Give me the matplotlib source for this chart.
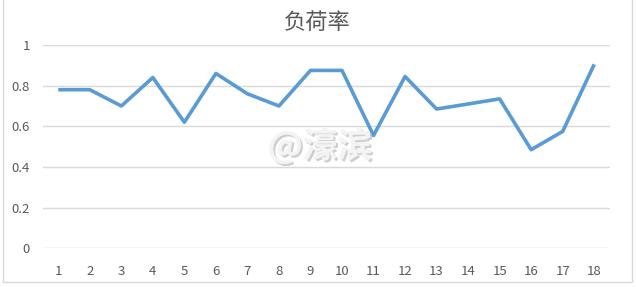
import matplotlib.pyplot as plt
from matplotlib.patches import Rectangle
import matplotlib.patheffects as pe

plt.rcParams['font.family'] = ['Noto Sans CJK SC', 'DejaVu Sans']

# data
hours = list(range(1, 19))
load_rate = [0.78, 0.78, 0.70, 0.84, 0.62, 0.86, 0.76, 0.70, 0.875,
             0.875, 0.555, 0.845, 0.685, 0.71, 0.735, 0.485, 0.575, 0.905]
y_ticks = [0, 0.2, 0.4, 0.6, 0.8, 1]
y_labels = ['0', '0.2', '0.4', '0.6', '0.8', '1']

W, H = 636, 287
fig = plt.figure(figsize=(W / 100, H / 100), dpi=100)
fig.patch.set_facecolor('white')

# chart area border (top runs off the image)
fig.patches.append(Rectangle((2.5 / W, 1 - 282 / H), 629.5 / W, 290 / H,
                             transform=fig.transFigure, fill=False,
                             edgecolor='#d9d9d9', linewidth=1))

ax = fig.add_axes([42.5 / W, 1 - 248.3 / H, 567.5 / W, 203.3 / H])
ax.plot(hours, load_rate, color='#5B9BD5', linewidth=2.6,
        solid_joinstyle='round', solid_capstyle='butt', zorder=3)

ax.set_xlim(0.5, 18.5)
ax.set_ylim(0, 1)
ax.set_xticks(hours)
ax.set_xticklabels([str(h) for h in hours])
ax.set_yticks(y_ticks)
ax.set_yticklabels(y_labels)
ax.tick_params(length=0, labelsize=9.5, colors='#595959')
ax.tick_params(axis='x', pad=12)
ax.tick_params(axis='y', pad=9)
ax.grid(axis='y', color='#d9d9d9', linewidth=1)
ax.set_axisbelow(True)
for s in ax.spines.values():
    s.set_visible(False)
ax.set_facecolor('none')

fig.text(317 / W, 1 - 22 / H, '负荷率', ha='center', va='center',
         fontsize=16, color='#595959', fontweight='light')

# watermark
fig.text(320 / W, 1 - 146 / H, '@濠滨', ha='center', va='center',
         fontsize=25, color='#f4f4f4', fontweight='bold', zorder=5,
         path_effects=[pe.withSimplePatchShadow(offset=(1.5, -1.5),
                                                shadow_rgbFace='#b0b0b0', alpha=0.6),
                       pe.Normal()])

fig.savefig('out.png', dpi=100)
